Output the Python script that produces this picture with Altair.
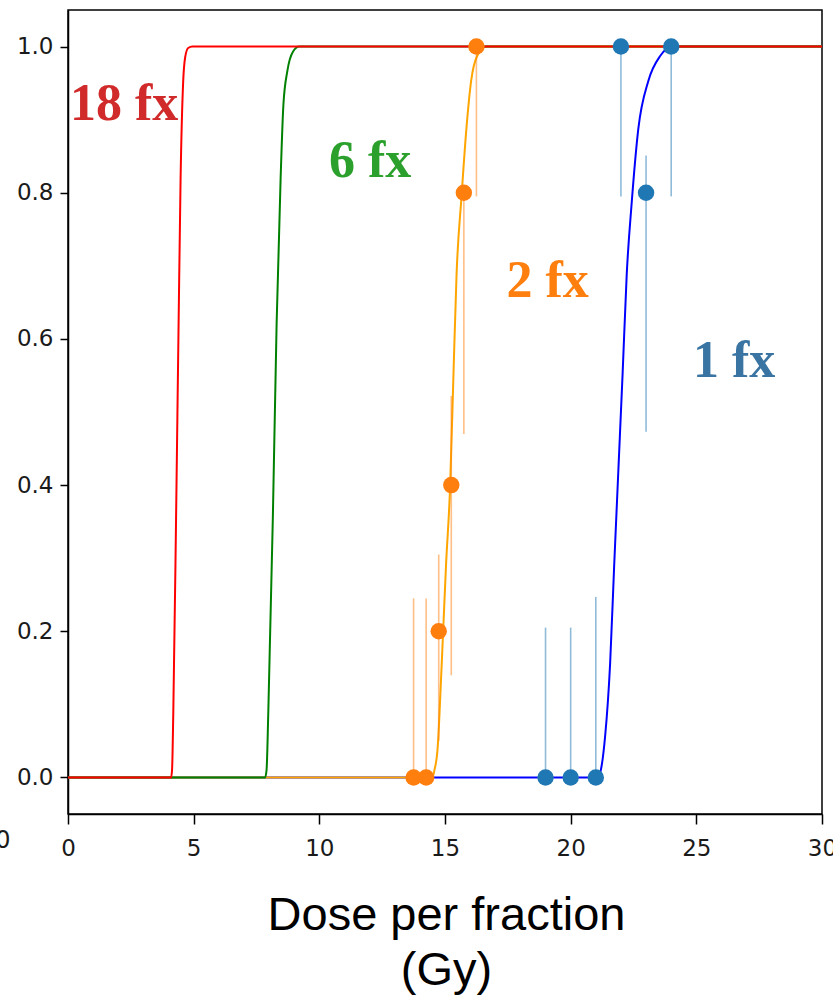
import altair as alt
import pandas as pd

# ---- fitted curves ----
red_x = [0, 4.10, 4.14, 4.19, 4.30, 4.40, 4.48, 4.58, 4.66, 4.78, 4.95, 30]
red_y = [0, 0, 0.01, 0.09, 0.355, 0.62, 0.82, 0.95, 0.985, 0.998, 1, 1]
green_x = [0, 7.84, 7.90, 7.97, 8.15, 8.30, 8.46, 8.57, 8.73, 8.95, 9.20, 30]
green_y = [0, 0, 0.01, 0.09, 0.355, 0.62, 0.82, 0.92, 0.967, 0.993, 1, 1]
orange_x = [0, 14.50, 14.58, 14.70, 14.87, 15.04, 15.20, 15.34, 15.46, 15.66, 15.85, 16.04, 16.28, 16.66, 30]
orange_y = [0, 0, 0.01, 0.037, 0.156, 0.29, 0.395, 0.555, 0.688, 0.796, 0.887, 0.953, 0.987, 1, 1]
blue_x = [0, 21.10, 21.20, 21.37, 21.57, 21.73, 21.90, 22.07, 22.23, 22.43, 22.69, 23.09, 23.56, 24.05, 30]
blue_y = [0, 0, 0.01, 0.056, 0.156, 0.289, 0.422, 0.555, 0.688, 0.787, 0.887, 0.953, 0.987, 1, 1]

# ---- observed points with error bars ----
fx1_dose = [19, 20, 21, 22, 23, 24]
fx1_rate = [0, 0, 0, 1, 0.8, 1]
fx1_lo = [0, 0, 0, 0.795, 0.473, 0.795]
fx1_hi = [0.205, 0.205, 0.247, 1, 0.851, 1]

fx2_dose = [13.75, 14.25, 14.75, 15.25, 15.75, 16.25]
fx2_rate = [0, 0, 0.2, 0.4, 0.8, 1]
fx2_lo = [0, 0, 0.05, 0.14, 0.47, 0.795]
fx2_hi = [0.245, 0.245, 0.305, 0.522, 0.8, 1]

# ---- annotations ----
lab_text = ["18 fx", "6 fx", "2 fx", "1 fx"]
lab_x = [2.23, 12.02, 19.08, 26.50]
lab_y = [0.900, 0.821, 0.658, 0.548]
lab_color = ["#d12a2a", "#2ca02c", "#ff7f0e", "#3a74a2"]

x_scale = alt.Scale(domain=[0, 30], nice=False, zero=False)
y_scale = alt.Scale(domain=[-0.05, 1.05], nice=False, zero=False)

x_axis = alt.Axis(values=[0, 5, 10, 15, 20, 25, 30], format="d", tickSize=10,
                  labelPadding=13, labelFlush=False, title=["Dose per fraction", "(Gy)"],
                  titleFont="Liberation Sans", titleFontSize=47, titleFontWeight="normal",
                  titleLineHeight=55, titleBaseline="alphabetic", titleY=115, titleX=378,
                  titleColor="black")
y_axis = alt.Axis(values=[0, 0.2, 0.4, 0.6, 0.8, 1.0], format=".1f", tickSize=8,
                  labelPadding=7, title=None)

layers = []
first = True
for xs, ys, col in [(blue_x, blue_y, "#0000ff"), (orange_x, orange_y, "#ffa500"),
                    (green_x, green_y, "#008000"), (red_x, red_y, "#ff0000")]:
    df = pd.DataFrame({"x": xs, "y": ys})
    if first:
        enc = dict(x=alt.X("x:Q", scale=x_scale, axis=x_axis),
                   y=alt.Y("y:Q", scale=y_scale, axis=y_axis))
        first = False
    else:
        enc = dict(x=alt.X("x:Q", scale=x_scale), y=alt.Y("y:Q", scale=y_scale))
    layers.append(alt.Chart(df).mark_line(color=col, strokeWidth=2,
                                          interpolate="monotone").encode(**enc))

for dose, rate, lo, hi, col in [(fx2_dose, fx2_rate, fx2_lo, fx2_hi, "#ff7f0e"),
                                (fx1_dose, fx1_rate, fx1_lo, fx1_hi, "#1f77b4")]:
    df = pd.DataFrame({"x": dose, "y": rate, "lo": lo, "hi": hi})
    layers.append(alt.Chart(df).mark_rule(color=col, opacity=0.5, strokeWidth=1.6).encode(
        x=alt.X("x:Q", scale=x_scale), y=alt.Y("lo:Q", scale=y_scale), y2="hi:Q"))
    layers.append(alt.Chart(df).mark_circle(color=col, size=270, opacity=1).encode(
        x=alt.X("x:Q", scale=x_scale), y=alt.Y("y:Q", scale=y_scale)))

lab_df = pd.DataFrame({"t": lab_text, "x": lab_x, "y": lab_y, "c": lab_color})
layers.append(alt.Chart(lab_df).mark_text(font="Liberation Serif", fontWeight="bold",
                                          fontSize=52, align="center",
                                          baseline="alphabetic").encode(
    x=alt.X("x:Q", scale=x_scale), y=alt.Y("y:Q", scale=y_scale),
    text="t:N", color=alt.Color("c:N", scale=None)))

# stray label fragment at the left edge of the figure
stray_df = pd.DataFrame({"t": ["0"], "x": [-2.59], "y": [-0.087]})
layers.append(alt.Chart(stray_df).mark_text(font="DejaVu Sans", fontSize=24,
                                            align="center", baseline="middle",
                                            color="#1a1a1a", clip=False).encode(
    x=alt.X("x:Q", scale=x_scale), y=alt.Y("y:Q", scale=y_scale), text="t:N"))

chart = alt.layer(*layers).properties(
    width=754, height=804,
    autosize=alt.AutoSizeParams(type="none"),
    padding={"left": 68, "top": 10, "right": 11, "bottom": 187},
    background="white",
).configure_view(stroke="black", strokeWidth=1.5).configure_axis(
    domainColor="black", domainWidth=1.5, tickColor="black", tickWidth=1.5,
    labelColor="#1a1a1a", labelFont="DejaVu Sans", labelFontSize=23,
    grid=False,
)

chart.save("out.html", embed_options={"renderer": "svg", "actions": False})
